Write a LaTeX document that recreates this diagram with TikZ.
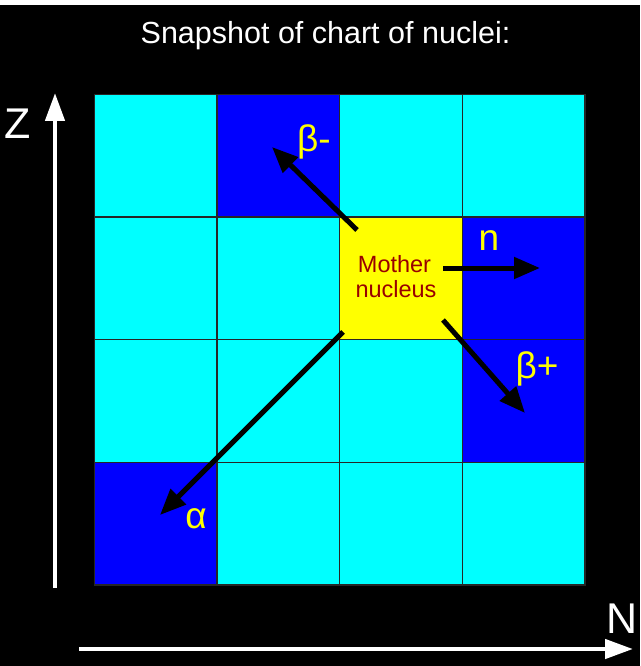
\documentclass[tikz,border=0pt]{standalone}
\usepackage{fontspec}
\setmainfont{Liberation Sans}
\usetikzlibrary{arrows.meta}
\definecolor{cellcyan}{HTML}{00FFFF}
\definecolor{cellblue}{HTML}{0000FF}
\definecolor{cellyellow}{HTML}{FFFF00}
\definecolor{labyellow}{HTML}{FFFF00}
\definecolor{motherred}{HTML}{990000}
\begin{document}
\begin{tikzpicture}[x=1pt,y=-1pt,
  cell/.style={draw=black!85,line width=1.5pt,minimum width=122.6pt,minimum height=122.6pt,inner sep=0pt,outer sep=0pt},
  decay/.style={draw=black,line width=5pt,-{Triangle[length=26pt,width=21pt]}},
  axis/.style={draw=white,line width=4.5pt,-{Triangle[length=28pt,width=19pt]}},
  decaylab/.style={text=labyellow,font=\fontsize{37}{42}\selectfont,inner sep=0pt,anchor=center},
  axislab/.style={text=white,font=\fontsize{43}{48}\selectfont,inner sep=0pt,anchor=base},
  mothertxt/.style={text=motherred,font=\fontsize{23.5}{25}\selectfont,inner sep=0pt,anchor=base}]
\useasboundingbox (0,0) rectangle (640,666);
\fill[black] (0,0) rectangle (640,666);
\fill[white] (0,0) rectangle (640,5);
% grid cells (row r from top, column c from left)
\foreach \r/\c/\col in {1/1/cellcyan,1/2/cellblue,1/3/cellcyan,1/4/cellcyan,
                        2/1/cellcyan,2/2/cellcyan,2/3/cellyellow,2/4/cellblue,
                        3/1/cellcyan,3/2/cellcyan,3/3/cellcyan,3/4/cellblue,
                        4/1/cellblue,4/2/cellcyan,4/3/cellcyan,4/4/cellcyan}
  \node[cell,fill=\col] (c\r\c) at ({94.5+122.6*(\c-0.5)},{94.5+122.6*(\r-0.5)}) {};
% title
\node[text=white,font=\fontsize{30.5}{34}\selectfont,inner sep=0pt,anchor=base] (title) at (325.5,44) {Snapshot of chart of nuclei:};
% mother nucleus text
\node[mothertxt] (mother1) at (394.5,272) {Mother};
\node[mothertxt] (mother2) at (396,297) {nucleus};
% decay arrow end points
\coordinate (bmS) at (357,230);
\coordinate (bmE) at (272,147);
\coordinate (nS) at (443,268);
\coordinate (nE) at (540,268);
\coordinate (bpS) at (443,320);
\coordinate (bpE) at (525,413);
\coordinate (aS) at (343,332);
\coordinate (aE) at (160,515);
\draw[decay] (bmS) -- (bmE);
\draw[decay] (nS) -- (nE);
\draw[decay] (bpS) -- (bpE);
\draw[decay] (aS) -- (aE);
% decay labels
\node[decaylab] (lbm) at (314,142) {β-};
\node[decaylab] (ln) at (489,241) {n};
\node[decaylab] (lbp) at (537,369) {β+};
\node[decaylab] (la) at (196,519) {α};
% axes
\coordinate (zS) at (55,588);
\coordinate (zE) at (55,93);
\coordinate (nxS) at (79,649);
\coordinate (nxE) at (633,649);
\draw[axis] (zS) -- (zE);
\draw[axis] (nxS) -- (nxE);
\node[axislab] (zlab) at (18,139) {Z};
\node[axislab] (nlab) at (622.5,633) {N};
\end{tikzpicture}
\end{document}
